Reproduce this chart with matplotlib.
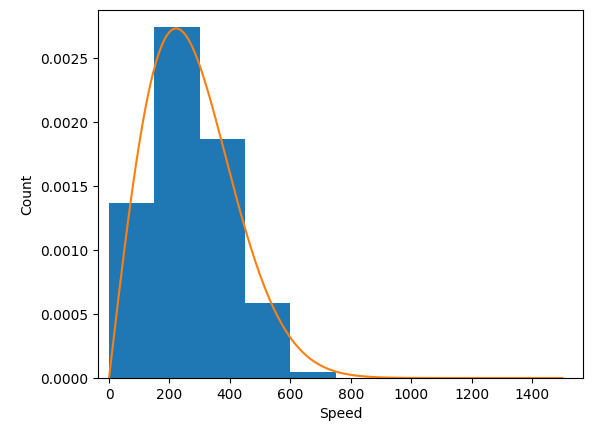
import numpy as np
import matplotlib
matplotlib.use('Agg')
import matplotlib.pyplot as plt

# histogram bins (speed) and normalised heights
bin_edges = [0, 150, 300, 450, 600, 750, 900, 1050, 1200, 1350, 1500]
heights = [0.00137, 0.00274, 0.00187, 0.00059, 0.00005, 0.000003, 0.0, 0.0, 0.0, 0.0]

# fitted Rayleigh (2D Maxwell) curve, scale read from the peak position
scale = 222.0
speed = np.linspace(0, 1500, 500)
density = speed / scale**2 * np.exp(-speed**2 / (2 * scale**2))

fig = plt.figure(figsize=(5.93, 4.32), dpi=100)
ax = fig.add_axes([0.165, 0.125, 0.818, 0.852])
widths = np.diff(bin_edges)
ax.bar(bin_edges[:-1], heights, width=widths, align='edge', color='#1f77b4')
ax.plot(speed, density, color='#ff7f0e')
ax.set_xlim(-37, 1568)
ax.set_xlabel('Speed')
ax.set_ylabel('Count')
fig.savefig('out.png', dpi=100)
